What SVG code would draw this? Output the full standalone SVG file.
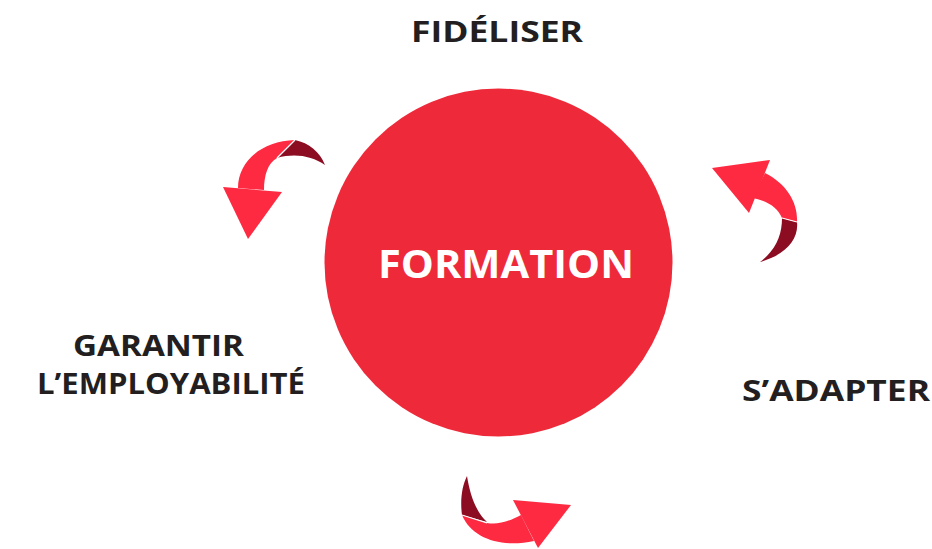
<svg xmlns="http://www.w3.org/2000/svg" width="932" height="549" viewBox="0 0 932 549">
<style>
.lbl{font-family:"Open Sans","Liberation Sans",sans-serif;font-weight:700;fill:#231f20;font-size:28px}
.bright{fill:#fe2a41}
.dark{fill:#8c0c22}
.gap{fill:none;stroke:#ffffff;stroke-width:1.2}
</style>
<rect width="932" height="549" fill="#ffffff"/>
<g id="node-formation">
<circle cx="498.5" cy="262.5" r="174" fill="#ee2a3a"/>
<text x="378" y="278" textLength="256" lengthAdjust="spacingAndGlyphs" style="font-family:'Open Sans','Liberation Sans',sans-serif;font-weight:700;font-size:39px;fill:#ffffff">FORMATION</text>
</g>
<g id="node-fideliser">
<text class="lbl" x="411" y="42" textLength="172" lengthAdjust="spacingAndGlyphs">FIDÉLISER</text>
</g>
<g id="node-garantir">
<text class="lbl" x="73" y="356" textLength="171" lengthAdjust="spacingAndGlyphs">GARANTIR</text>
<text class="lbl" x="37" y="394" textLength="268" lengthAdjust="spacingAndGlyphs">L’EMPLOYABILITÉ</text>
</g>
<g id="node-sadapter">
<text class="lbl" x="742" y="401" textLength="188" lengthAdjust="spacingAndGlyphs">S’ADAPTER</text>
</g>
<g id="connectors">
<g id="arrow-top-left">
<path class="dark" d="M277 158 L295 140 C309 143 320 152 325 165 C312 156 295 153 277 158 Z"/>
<path class="bright" d="M238 188 C238 162 261 141 295 140 L277 158 C268 163 264 175 264 190 Z"/>
<path class="bright" d="M223 187 L282 192 L248 239 Z"/>
<path class="gap" d="M277 158 L295 140"/>
</g>
<g id="arrow-right">
<path class="dark" d="M782 218 L797 222 C799 240 785 255 760 262 C776 250 782 235 782 218 Z"/>
<path class="bright" d="M765 173 C787 184 798 203 797 222 L782 218 C778 208 768 201 753 198 Z"/>
<path class="bright" d="M712 168 L770 160 L749 213 Z"/>
<path class="gap" d="M782 218 L797 222"/>
</g>
<g id="arrow-bottom">
<path class="dark" d="M467 476 C470 495 476 512 487 522 L462 515 C460 500 462 486 467 476 Z"/>
<path class="bright" d="M462 515 C472 539 502 548 534 541 L521 515 C508 522 497 525 487 523 Z"/>
<path class="bright" d="M513 500 L571 505 L538 548 Z"/>
<path class="gap" d="M462 515 L487 523"/>
</g>
</g>
</svg>
